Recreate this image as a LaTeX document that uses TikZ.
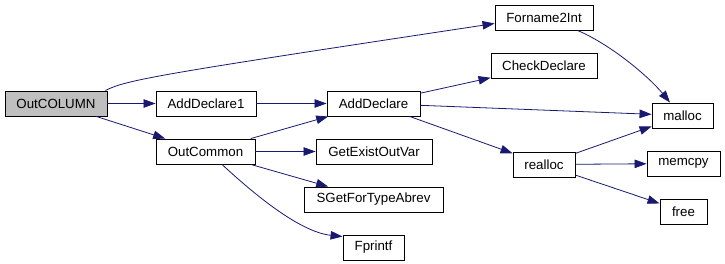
\documentclass[tikz,border=0pt]{standalone}
\usepackage{fontspec}
\setmainfont{Liberation Sans}
\usetikzlibrary{arrows.meta}
\definecolor{edgeblue}{RGB}{25,25,112}
\definecolor{rootgray}{RGB}{191,191,191}
\tikzset{
  fn/.style={draw=black, line width=0.9bp, fill=white, minimum height=25bp, inner sep=0pt,
    font=\fontsize{13.3bp}{16bp}\selectfont, anchor=center},
  call/.style={draw=edgeblue, line width=0.8bp, -{Triangle[length=12bp,width=8.5bp]}},
}
\begin{document}
\begin{tikzpicture}[x=1bp,y=-1bp]
\useasboundingbox (0,0) rectangle (725,263);
\node[fn, fill=rootgray, minimum width=102bp] (OutCOLUMN) at (56,103.5) {OutCOLUMN};
\node[fn, minimum width=100bp] (AddDeclare1) at (206,103.5) {AddDeclare1};
\node[fn, minimum width=93bp] (AddDeclare) at (373.5,103.5) {AddDeclare};
\node[fn, minimum width=99bp] (OutCommon) at (205.5,151.5) {OutCommon};
\node[fn, minimum width=116bp] (GetExistOutVar) at (374,151.5) {GetExistOutVar};
\node[fn, minimum width=139bp] (SGetForTypeAbrev) at (373.5,199.5) {SGetForTypeAbrev};
\node[fn, minimum width=61bp] (Fprintf) at (373.5,247.5) {Fprintf};
\node[fn, minimum width=98bp] (Forname2Int) at (544,17.5) {Forname2Int};
\node[fn, minimum width=106bp] (CheckDeclare) at (544,66) {CheckDeclare};
\node[fn, minimum width=61bp] (malloc) at (682.5,115.5) {malloc};
\node[fn, minimum width=62bp] (realloc) at (544,164.5) {realloc};
\node[fn, minimum width=73bp] (memcpy) at (683.5,163.5) {memcpy};
\node[fn, minimum width=47bp] (free) at (683.5,211.5) {free};

\draw[call] ([xshift=-2bp]OutCOLUMN.north east) .. controls (125,80) and (160,74) .. ([yshift=-6bp]Forname2Int.west);
\draw[call] (OutCOLUMN) -- (AddDeclare1);
\draw[call] (OutCOLUMN) -- (OutCommon);
\draw[call] (AddDeclare1) -- (AddDeclare);
\draw[call] (OutCommon) -- (AddDeclare);
\draw[call] (OutCommon) -- (GetExistOutVar);
\draw[call] (OutCommon) -- (SGetForTypeAbrev);
\draw[call] ([xshift=16.5bp]OutCommon.south) .. controls (255,195) and (300,232) .. ([yshift=-2bp]Fprintf.north west);
\draw[call] (AddDeclare) -- (CheckDeclare);
\draw[call] (AddDeclare) -- (malloc);
\draw[call] (AddDeclare) -- (realloc);
\draw[call] ([xshift=-16bp]Forname2Int.south east) .. controls (612,45) and (650,78) .. ([xshift=-12.5bp]malloc.north);
\draw[call] (realloc) -- (malloc);
\draw[call] (realloc) -- (memcpy);
\draw[call] (realloc) -- (free);
\end{tikzpicture}
\end{document}
